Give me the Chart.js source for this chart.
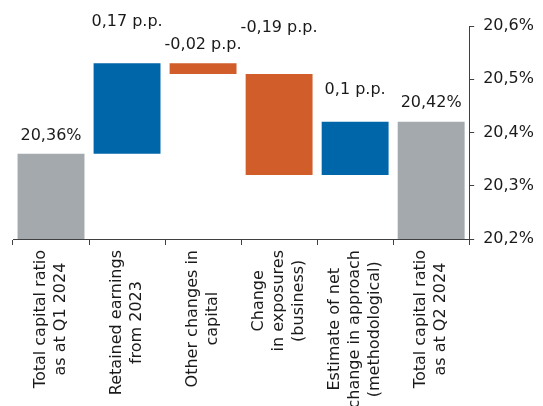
<!DOCTYPE html>
<html>
<head>
<meta charset="utf-8">
<script src="https://cdn.jsdelivr.net/npm/chart.js@4.4.0/dist/chart.umd.min.js"></script>
<style>
html,body{margin:0;padding:0;background:#fff}
#wrap{width:543px;height:406px;position:relative}
</style>
</head>
<body>
<div id="wrap"><canvas id="c"></canvas></div>
<script>
// data
const categories=[['Total capital ratio','as at Q1 2024'],['Retained earnings','from 2023'],['Other changes in','capital'],['Change','in exposures','(business)'],['Estimate of net','change in approach','(methodological)'],['Total capital ratio','as at Q2 2024']];
const kinds=['total','delta','delta','delta','delta','total'];
const values=[20.36,0.17,-0.02,-0.19,0.1,20.42];
const yTicks=[20.2,20.3,20.4,20.5,20.6];

const FONT='"DejaVu Sans", Verdana, sans-serif';
const TXT='#1a1a1a',AXIS='#404040';
const GRAY='#A3A9AC',BLUE='#0066AA',ORANGE='#D15E2A';
// label lift above bar top (px), hand placed in the original
const LIFT=[18,41,18,46,32,19];

let run=0;
const ranges=values.map((v,i)=>{
  if(kinds[i]==='total'){run=v;return[yTicks[0],v]}
  const a=run;run=+(run+v).toFixed(4);return[Math.min(a,run),Math.max(a,run)];
});
const colors=values.map((v,i)=>kinds[i]==='total'?GRAY:(v>=0?BLUE:ORANGE));
const fmt=(v,i)=>kinds[i]==='total'?String(v).replace('.',',')+'%':String(v).replace('.',',')+' p.p.';

const labelPlugin={
  id:'labels',
  afterDatasetsDraw(chart){
    const ctx=chart.ctx,x=chart.scales.x,y=chart.scales.y,meta=chart.getDatasetMeta(0);
    ctx.save();
    ctx.fillStyle=TXT;ctx.font='16px '+FONT;ctx.textAlign='center';ctx.textBaseline='middle';
    meta.data.forEach((bar,i)=>{
      const top=y.getPixelForValue(ranges[i][1]);
      ctx.fillText(fmt(values[i],i),bar.x,top-LIFT[i]);
    });
    // category labels: rotated, lines centred on each other
    const lh=20,y0=x.top+11;
    categories.forEach((lines,i)=>{
      const cx=x.getPixelForValue(i);
      const w=Math.max(...lines.map(l=>ctx.measureText(l).width));
      const cy=y0+w/2;
      lines.forEach((l,j)=>{
        const lx=cx+(j-(lines.length-1)/2)*lh;
        ctx.save();ctx.translate(lx,cy);ctx.rotate(-Math.PI/2);ctx.fillText(l,0,0);ctx.restore();
      });
    });
    ctx.restore();
  }
};

new Chart(document.getElementById('c'),{
  type:'bar',
  data:{labels:categories.map(c=>c.join(' ')),datasets:[{data:ranges,backgroundColor:colors,borderWidth:0,barPercentage:0.88,categoryPercentage:1}]},
  options:{
    responsive:true,maintainAspectRatio:false,animation:false,
    layout:{padding:{top:26,right:0,left:13,bottom:0}},
    plugins:{legend:{display:false},tooltip:{enabled:false}},
    scales:{
      x:{offset:true,grid:{display:true,drawOnChartArea:false,offset:true,color:AXIS,tickLength:6,lineWidth:1},border:{color:AXIS,width:1},
        ticks:{display:false},afterFit(s){s.height=167}},
      y:{position:'right',min:20.2,max:20.6,grid:{drawOnChartArea:false,color:AXIS,tickLength:5},border:{color:AXIS,width:1},
        afterBuildTicks(s){s.ticks=yTicks.map(v=>({value:v}))},
        ticks:{color:TXT,font:{family:FONT,size:16},padding:9,callback:v=>v.toFixed(1).replace('.',',')+'%'}}
    }
  },
  plugins:[labelPlugin]
});
</script>
</body>
</html>
